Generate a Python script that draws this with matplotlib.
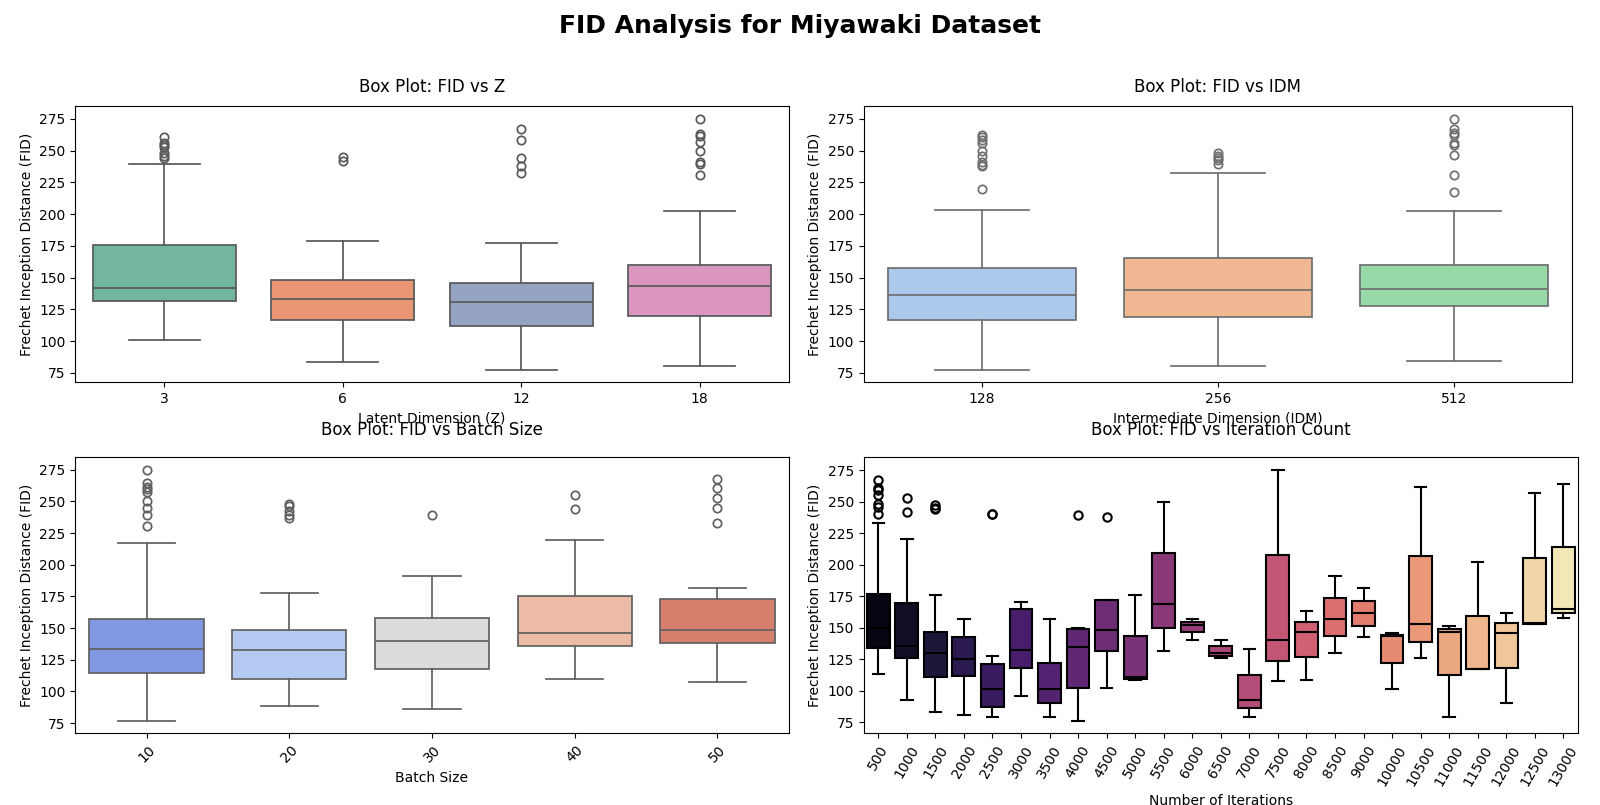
import colorsys
import matplotlib
matplotlib.use("Agg")
import matplotlib.pyplot as plt
from matplotlib.ticker import MultipleLocator
import seaborn as sns

# Box statistics (FID values)
z_labels = ["3", "6", "12", "18"]
z_whislo = [101.0, 83.4, 77.4, 80.5]
z_q1 = [131.5, 116.8, 111.8, 119.4]
z_med = [141.8, 133.1, 131.0, 143.3]
z_q3 = [175.7, 148.0, 145.7, 159.9]
z_whishi = [239.5, 178.8, 177.0, 202.2]
z_fliers = [[261, 256, 254, 253, 248, 246, 244],
            [245.3, 241.9],
            [267.1, 258.7, 244.3, 238.2, 232.4],
            [275, 263.2, 261.3, 256.6, 249.8, 241.1, 239.8, 230.8]]

idm_labels = ["128", "256", "512"]
idm_whislo = [77.4, 80.3, 84.2]
idm_q1 = [116.8, 118.9, 127.6]
idm_med = [136.2, 140.2, 141.0]
idm_q3 = [157.3, 165.1, 159.9]
idm_whishi = [203.3, 232.4, 202.5]
idm_fliers = [[262.6, 260.5, 258.7, 256, 250, 245.6, 240.8, 239, 238.2, 219.8],
              [248.2, 246.1, 244.3, 242.2, 239.8],
              [275, 267.1, 264, 262.1, 256.1, 254, 246.9, 230.8, 217.4]]

batch_labels = ["10", "20", "30", "40", "50"]
batch_whislo = [76.8, 88.2, 85.8, 110.0, 107.6]
batch_q1 = [114.7, 109.5, 117.9, 136.1, 137.9]
batch_med = [133.7, 132.9, 140.0, 146.3, 148.4]
batch_q3 = [157.4, 148.4, 157.9, 175.5, 172.9]
batch_whishi = [217.4, 177.9, 191.3, 219.7, 181.8]
batch_fliers = [[275, 264.2, 261.6, 259.5, 257.4, 250, 244.7, 239.5, 230.8],
                [247.9, 246.3, 242.6, 239.5, 237.1],
                [239.5],
                [255.3, 244.2],
                [267.4, 260.5, 252.6, 244.7, 233.2]]

iter_labels = ["500", "1000", "1500", "2000", "2500", "3000", "3500", "4000",
               "4500", "5000", "5500", "6000", "6500", "7000", "7500", "8000",
               "8500", "9000", "10000", "10500", "11000", "11500", "12000",
               "12500", "13000"]
iter_whislo = [113.8, 92.7, 82.9, 80.8, 79.7, 95.6, 79.7, 76.3, 102.7, 108.5,
               132.0, 140.4, 125.9, 79.7, 107.5, 109.0, 130.4, 143.1, 101.9,
               125.7, 79.7, 117.0, 90.8, 152.8, 158.1]
iter_q1 = [133.8, 125.9, 111.1, 111.9, 86.9, 118.3, 90.8, 102.7, 132.0, 109.8,
           150.2, 147.0, 127.8, 86.1, 124.1, 127.0, 143.9, 151.8, 122.5, 139.1,
           113.0, 117.0, 118.5, 153.4, 162.1]
iter_med = [150.0, 135.7, 130.4, 125.1, 101.4, 132.5, 101.9, 135.2, 148.4, 111.4,
            169.2, 152.3, 130.4, 92.4, 140.7, 146.5, 157.3, 161.5, 143.3, 152.8,
            146.5, 117.2, 146.2, 154.2, 165.2]
iter_q3 = [176.6, 170.0, 147.0, 142.8, 121.7, 165.2, 122.5, 149.4, 172.1, 143.6,
           209.3, 154.7, 135.7, 113.0, 208.0, 155.0, 173.9, 171.6, 144.7, 207.2,
           149.4, 159.7, 154.2, 205.6, 214.3]
iter_whishi = [233.3, 220.1, 175.8, 157.3, 127.8, 170.5, 157.3, 150.2, 172.1, 176.3,
               250.0, 157.3, 140.4, 133.6, 275.3, 163.7, 190.8, 181.9, 146.2, 261.8,
               151.8, 202.4, 162.1, 257.0, 264.2]
iter_fliers = [[267.6, 261, 259, 255.7, 247.8, 245.7, 239.9], [253, 242],
               [247, 245, 244], [], [240.4, 240.4], [], [], [239.6], [238]] + [[]] * 16


def gray_for(colors):
    # same idea as seaborn: darker gray than the lightest box
    lum = min(colorsys.rgb_to_hls(*c[:3])[1] for c in colors) * 0.6
    return (lum, lum, lum)


def draw_box(ax, labels, whislo, q1, med, q3, whishi, fliers, colors, edge, lw):
    stats = []
    for i in range(len(labels)):
        stats.append(dict(label=labels[i], whislo=whislo[i], q1=q1[i], med=med[i],
                          q3=q3[i], whishi=whishi[i], fliers=fliers[i]))
    bp = ax.bxp(stats, positions=range(len(labels)), widths=0.8, patch_artist=True,
                boxprops=dict(edgecolor=edge, linewidth=lw),
                whiskerprops=dict(color=edge, linewidth=lw),
                capprops=dict(color=edge, linewidth=lw),
                medianprops=dict(color=edge, linewidth=lw),
                flierprops=dict(marker='o', markerfacecolor='none', markeredgecolor=edge,
                                markersize=6, markeredgewidth=lw))
    for patch, c in zip(bp['boxes'], colors):
        patch.set_facecolor(c)
    ax.set_xlim(-0.5, len(labels) - 0.5)
    ax.yaxis.set_major_locator(MultipleLocator(25))
    ax.set_ylabel('Frechet Inception Distance (FID)')


fig = plt.figure(figsize=(16, 8.05), dpi=100)
fig.suptitle('FID Analysis for Miyawaki Dataset', fontsize=18, fontweight='bold',
             y=0.982, va='top')

ax1 = fig.add_axes([0.047, 0.525, 0.446, 0.343])
ax2 = fig.add_axes([0.540, 0.525, 0.4425, 0.343])
ax3 = fig.add_axes([0.047, 0.089, 0.446, 0.343])
ax4 = fig.add_axes([0.540, 0.089, 0.446, 0.343])

pal = [sns.desaturate(c, 0.75) for c in sns.color_palette('Set2', len(z_labels))]
draw_box(ax1, z_labels, z_whislo, z_q1, z_med, z_q3, z_whishi, z_fliers,
         pal, gray_for(pal), 1.25)
ax1.set_title('Box Plot: FID vs Z', fontsize=12, pad=10)
ax1.set_xlabel('Latent Dimension (Z)')

pal = [sns.desaturate(c, 0.75) for c in sns.color_palette('pastel', len(idm_labels))]
draw_box(ax2, idm_labels, idm_whislo, idm_q1, idm_med, idm_q3, idm_whishi, idm_fliers,
         pal, gray_for(pal), 1.25)
ax2.set_title('Box Plot: FID vs IDM', fontsize=12, pad=10)
ax2.set_xlabel('Intermediate Dimension (IDM)')

pal = [sns.desaturate(c, 0.75) for c in sns.color_palette('coolwarm', len(batch_labels))]
draw_box(ax3, batch_labels, batch_whislo, batch_q1, batch_med, batch_q3, batch_whishi,
         batch_fliers, pal, gray_for(pal), 1.25)
ax3.set_title('Box Plot: FID vs Batch Size', fontsize=12, pad=16)
ax3.set_xlabel('Batch Size')
ax3.tick_params(axis='x', labelrotation=45)

pal = [sns.desaturate(c, 0.75) for c in sns.color_palette('magma', len(iter_labels))]
draw_box(ax4, iter_labels, iter_whislo, iter_q1, iter_med, iter_q3, iter_whishi,
         iter_fliers, pal, 'black', 1.5)
ax4.set_title('Box Plot: FID vs Iteration Count', fontsize=12, pad=16)
ax4.set_xlabel('Number of Iterations')
ax4.tick_params(axis='x', labelrotation=60)

fig.savefig('out.png', dpi=100)
